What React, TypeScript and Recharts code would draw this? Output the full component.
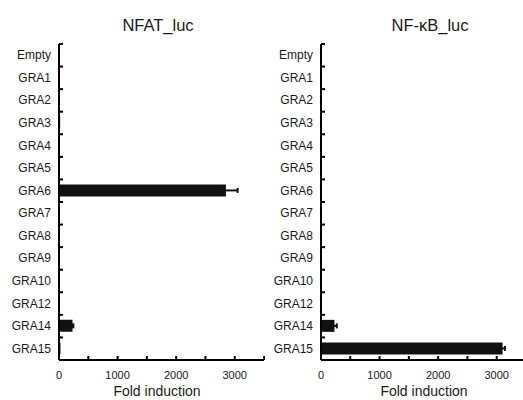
import { BarChart, Bar, XAxis, YAxis, ErrorBar } from "recharts";

const categories = [
  "Empty", "GRA1", "GRA2", "GRA3", "GRA4", "GRA5", "GRA6",
  "GRA7", "GRA8", "GRA9", "GRA10", "GRA12", "GRA14", "GRA15",
];

// NFAT_luc fold induction
const nfatValues = [1, 2, 2, 20, 3, 2, 2850, 3, 2, 2, 3, 3, 230, 25];
const nfatErrors = [null, null, null, null, null, null, 200, null, null, null, null, null, 15, null];

// NF-kB_luc fold induction
const nfkbValues = [1, 2, 2, 3, 2, 2, 3, 2, 2, 2, 3, 3, 230, 3100];
const nfkbErrors = [null, null, null, null, null, null, null, null, null, null, null, null, 40, 40];

const xTicks = [0, 500, 1000, 1500, 2000, 2500, 3000, 3500];

const FONT = "'Liberation Sans', Arial, sans-serif";
const H = 400;
const TOP = 44;
const AXIS_H = 40;
const BAND = (H - TOP - AXIS_H) / categories.length;

const YTick = ({ x, y, payload }: any) => (
  <g>
    <line x1={x} x2={x + 4} y1={y - BAND / 2} y2={y - BAND / 2} stroke="#000" strokeWidth={2} />
    <text x={x - 8} y={y} textAnchor="end" dominantBaseline="central" fontSize={12} fill="#1a1a1a" fontFamily={FONT}>
      {payload.value}
    </text>
  </g>
);

const XTick = ({ x, y, payload }: any) => (
  <g>
    <line x1={x} x2={x} y1={y} y2={y - 4} stroke="#000" strokeWidth={2} />
    {payload.value % 1000 === 0 && (
      <text x={x} y={y + 15} textAnchor="middle" dominantBaseline="central" fontSize={11} fill="#1a1a1a" fontFamily={FONT}>
        {payload.value}
      </text>
    )}
  </g>
);

const Panel = ({ values, errors, left, width }: any) => {
  const data = categories.map((name, i) => ({ name, value: values[i], err: errors[i] }));
  return (
    <div style={{ position: "absolute", left, top: 0 }}>
      <BarChart
        width={width}
        height={H}
        data={data}
        layout="vertical"
        margin={{ top: TOP, right: 2, bottom: 0, left: 0 }}
      >
        <XAxis
          type="number"
          domain={[0, 3500]}
          ticks={xTicks}
          interval={0}
          height={AXIS_H}
          tickSize={0}
          tickMargin={0}
          tickLine={false}
          tick={<XTick />}
          axisLine={{ stroke: "#000", strokeWidth: 2 }}
        />
        <YAxis
          type="category"
          dataKey="name"
          width={59}
          tickSize={0}
          tickMargin={0}
          tickLine={false}
          interval={0}
          tick={<YTick />}
          axisLine={{ stroke: "#000", strokeWidth: 2 }}
        />
        <Bar dataKey="value" fill="#111" barSize={12} isAnimationActive={false}>
          <ErrorBar dataKey="err" direction="x" width={2.5} stroke="#111" strokeWidth={2} />
        </Bar>
      </BarChart>
    </div>
  );
};

const Caption = ({ text, center, top, size }: any) => (
  <div
    style={{
      position: "absolute",
      left: center - 70,
      width: 140,
      top,
      lineHeight: `${Math.round(size + 2)}px`,
      textAlign: "center",
      fontFamily: FONT,
      fontSize: size,
      color: "#1a1a1a",
      whiteSpace: "nowrap",
    }}
  >
    {text}
  </div>
);

export default function App() {
  return (
    <div style={{ position: "fixed", left: 0, top: 0, width: 523, height: 400, background: "#fff" }}>
      <div style={{ position: "absolute", left: 0, top: 0, width: 523, height: 400, overflow: "hidden" }}>
        <Panel values={nfatValues} errors={nfatErrors} left={0} width={266} />
        <Panel values={nfkbValues} errors={nfkbErrors} left={262} width={266} />
      </div>
      <Caption text="NFAT_luc" center={158} top={16} size={16.5} />
      <Caption text="NF-κB_luc" center={430} top={16} size={16.5} />
      <Caption text="Fold induction" center={157} top={383} size={14} />
      <Caption text="Fold induction" center={424} top={383} size={14} />
    </div>
  );
}
